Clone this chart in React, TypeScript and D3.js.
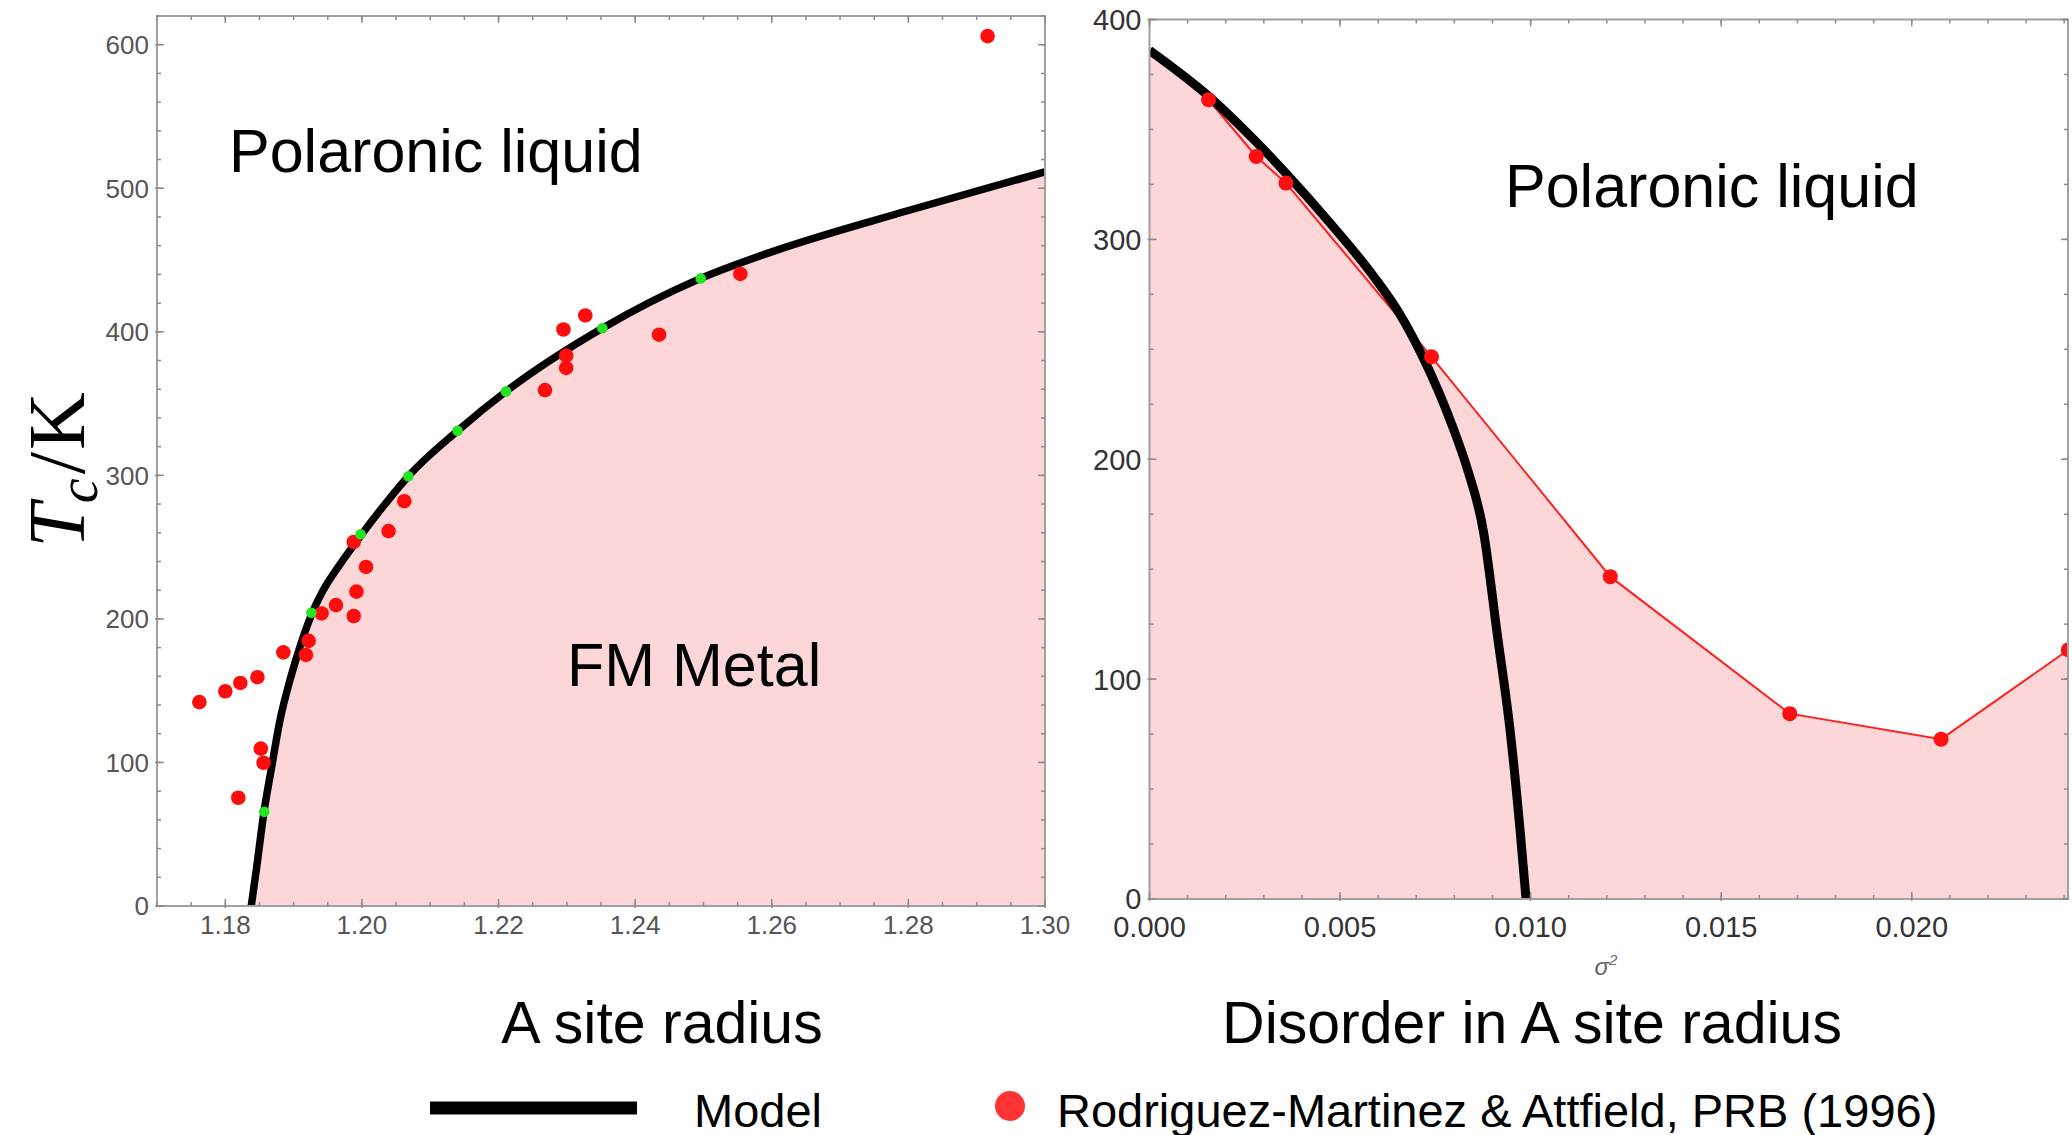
import React from 'react';
import * as d3 from 'd3';

// ---- left panel: Tc vs <r_A> ----
const modelRadius = [1.1838, 1.1846, 1.18566, 1.18679, 1.18801, 1.18947, 1.19093, 1.1924, 1.19435, 1.19679, 1.19972, 1.2041, 1.2068, 1.214, 1.2211, 1.2352, 1.2496, 1.26, 1.28, 1.3];
const modelRadiusTc = [0, 27.4, 65.5, 97, 129.6, 157.4, 180.6, 200.4, 220.1, 238, 257.3, 284.2, 299.4, 331, 358.5, 402.5, 437.2, 455.7, 484.5, 511.5];

const greenRadius = [1.1857, 1.1926, 1.1998, 1.2068, 1.214, 1.2211, 1.2352, 1.2496];
const greenTc = [65.6, 204.3, 259, 299.4, 331, 358.5, 402.5, 437.2];

const expRadius = [1.2916, 1.2554, 1.2327, 1.2295, 1.2435, 1.2299, 1.2299, 1.2268, 1.2062, 1.2039, 1.1988, 1.2006, 1.1992, 1.1988, 1.1962, 1.1941, 1.1922, 1.1918, 1.1885, 1.1847, 1.1822, 1.18, 1.1762, 1.1852, 1.1856, 1.1819];
const expRadiusTc = [606, 440.3, 411.4, 401.6, 398, 383.4, 374.9, 359.4, 282, 261.2, 253.6, 236.2, 219, 202, 209.6, 203.8, 184.7, 174.9, 176.7, 159.4, 155.4, 149.6, 142, 109.6, 99.8, 75.4];

// ---- right panel: Tc vs sigma^2 ----
const modelSigma = [0, 0.0016, 0.00282, 0.00361, 0.00466, 0.00588, 0.00655, 0.00712, 0.00758, 0.00796, 0.00832, 0.00877, 0.00912, 0.00947, 0.00973, 0.00988];
const modelSigmaTc = [386, 364.4, 344, 329.5, 309, 283.2, 266.5, 248.3, 231, 214.5, 196.7, 166.4, 121, 75.4, 30, 0];

const expSigma = [0.00155, 0.0028, 0.00358, 0.0074, 0.01209, 0.0168, 0.02077, 0.02411];
const expSigmaTc = [363.5, 337.7, 325.6, 246.6, 146.6, 84.3, 72.7, 113.3];

// ticks
const leftXTicks = [1.18, 1.2, 1.22, 1.24, 1.26, 1.28, 1.3];
const leftYTicks = [0, 100, 200, 300, 400, 500, 600];
const rightXTicks = [0, 0.005, 0.01, 0.015, 0.02];
const rightYTicks = [0, 100, 200, 300, 400];

const PINK = '#fdd6d8';
const SANS = '"Liberation Sans", Arial, sans-serif';

type Scale = d3.ScaleLinear<number, number>;

function Frame(props: {
  x: Scale; y: Scale;
  xMajor: number[]; xMinor: number[]; yMajor: number[]; yMinor: number[];
  xFmt: (v: number) => string; yFmt: (v: number) => string;
  fontSize: number; color: string; xLabelY: number; yLabelGap: number;
}) {
  const { x, y, xMajor, xMinor, yMajor, yMinor, xFmt, yFmt, fontSize, color, xLabelY, yLabelGap } = props;
  const [x0, x1] = x.range();
  const [y0, y1] = y.range();
  const tick = '#8c8c8c';
  return (
    <g>
      <rect x={x0} y={y1} width={x1 - x0} height={y0 - y1} fill="none" stroke="#a0a0a0" strokeWidth={2} />
      {xMinor.map((v, i) => (
        <g key={'xm' + i} stroke={tick} strokeWidth={1.5}>
          <line x1={x(v)} x2={x(v)} y1={y0} y2={y0 - 4} />
          <line x1={x(v)} x2={x(v)} y1={y1} y2={y1 + 4} />
        </g>
      ))}
      {xMajor.map((v, i) => (
        <g key={'xM' + i} stroke={tick} strokeWidth={1.5}>
          <line x1={x(v)} x2={x(v)} y1={y0 + 2} y2={y0 - 7} />
          <line x1={x(v)} x2={x(v)} y1={y1} y2={y1 + 7} />
        </g>
      ))}
      {yMinor.map((v, i) => (
        <g key={'ym' + i} stroke={tick} strokeWidth={1.5}>
          <line x1={x0} x2={x0 + 4} y1={y(v)} y2={y(v)} />
          <line x1={x1} x2={x1 - 4} y1={y(v)} y2={y(v)} />
        </g>
      ))}
      {yMajor.map((v, i) => (
        <g key={'yM' + i} stroke={tick} strokeWidth={1.5}>
          <line x1={x0 - 2} x2={x0 + 7} y1={y(v)} y2={y(v)} />
          <line x1={x1} x2={x1 - 7} y1={y(v)} y2={y(v)} />
        </g>
      ))}
      {xMajor.map((v, i) => (
        <text key={'xl' + i} x={x(v)} y={xLabelY} textAnchor="middle" fontFamily={SANS} fontSize={fontSize} fill={color}>
          {xFmt(v)}
        </text>
      ))}
      {yMajor.map((v, i) => (
        <text key={'yl' + i} x={x0 - yLabelGap} y={y(v)} dy="0.36em" textAnchor="end" fontFamily={SANS} fontSize={fontSize} fill={color}>
          {yFmt(v)}
        </text>
      ))}
    </g>
  );
}

export default function App() {
  // left scales
  const xL = d3.scaleLinear().domain([1.17, 1.3]).range([157, 1045]);
  const yL = d3.scaleLinear().domain([0, 620]).range([906, 16]);
  // right scales
  const xR = d3.scaleLinear().domain([0, 0.0241]).range([1149.5, 2068]);
  const yR = d3.scaleLinear().domain([0, 400]).range([899, 19.5]);

  const leftModel = modelRadius.map((r, i) => [r, modelRadiusTc[i]] as [number, number]);
  const rightModel = modelSigma.map((s, i) => [s, modelSigmaTc[i]] as [number, number]);
  const rightExp = expSigma.map((s, i) => [s, expSigmaTc[i]] as [number, number]);

  const lineL = d3.line<[number, number]>().x(d => xL(d[0])).y(d => yL(d[1])).curve(d3.curveMonotoneX);
  const areaL = d3.area<[number, number]>().x(d => xL(d[0])).y0(yL(0)).y1(d => yL(d[1])).curve(d3.curveMonotoneX);
  const lineR = d3.line<[number, number]>().x(d => xR(d[0])).y(d => yR(d[1])).curve(d3.curveMonotoneX);
  const areaR = d3.area<[number, number]>().x(d => xR(d[0])).y0(yR(0)).y1(d => yR(d[1])).curve(d3.curveMonotoneX);
  const expLine = d3.line<[number, number]>().x(d => xR(d[0])).y(d => yR(d[1]));
  const expArea = d3.area<[number, number]>().x(d => xR(d[0])).y0(yR(0)).y1(d => yR(d[1]));

  const leftXMinor = d3.range(1.17, 1.3001, 0.005);
  const leftYMinor = d3.range(0, 620.1, 20);
  const rightXMinor = d3.range(0, 0.0241, 0.001);
  const rightYMinor = d3.range(0, 400.1, 25);

  return (
    <svg width={2072} height={1135} style={{ position: 'absolute', left: 0, top: 0, background: '#fff' }}>
      <defs>
        <clipPath id="clipL">
          <rect x={157} y={16} width={888} height={890} />
        </clipPath>
        <clipPath id="clipR">
          <rect x={1149.5} y={19.5} width={918.5} height={879.5} />
        </clipPath>
      </defs>

      {/* left panel */}
      <g clipPath="url(#clipL)">
        <path d={areaL(leftModel) || ''} fill={PINK} />
        <path d={lineL(leftModel) || ''} fill="none" stroke="#000" strokeWidth={7.5} />
        {expRadius.map((r, i) => (
          <circle key={'e' + i} cx={xL(r)} cy={yL(expRadiusTc[i])} r={7.3} fill="#ff0d0d" />
        ))}
        {greenRadius.map((r, i) => (
          <circle key={'g' + i} cx={xL(r)} cy={yL(greenTc[i])} r={5.3} fill="#22e622" />
        ))}
      </g>
      <Frame x={xL} y={yL} xMajor={leftXTicks} xMinor={leftXMinor} yMajor={leftYTicks} yMinor={leftYMinor}
        xFmt={d3.format('.2f')} yFmt={d3.format('d')} fontSize={26} color="#555" xLabelY={934} yLabelGap={8} />

      {/* right panel */}
      <g clipPath="url(#clipR)">
        <path d={areaR(rightModel) || ''} fill={PINK} />
        <path d={expArea(rightExp) || ''} fill={PINK} />
        <path d={expLine(rightExp) || ''} fill="none" stroke="#ff2020" strokeWidth={2} />
        <path d={lineR(rightModel) || ''} fill="none" stroke="#000" strokeWidth={9} />
        {rightExp.map((d, i) => (
          <circle key={'r' + i} cx={xR(d[0])} cy={yR(d[1])} r={7.5} fill="#ff1010" />
        ))}
      </g>
      <Frame x={xR} y={yR} xMajor={rightXTicks} xMinor={rightXMinor} yMajor={rightYTicks} yMinor={rightYMinor}
        xFmt={d3.format('.3f')} yFmt={d3.format('d')} fontSize={29} color="#333" xLabelY={937} yLabelGap={8} />
      <text x={1606} y={975} textAnchor="middle" fontFamily={SANS} fontSize={24} fontStyle="italic" fill="#666">
        σ<tspan fontSize={15} dy={-10}>2</tspan>
      </text>

      {/* y axis title */}
      <text transform="translate(84,470) rotate(-90)" textAnchor="middle" fontFamily='"Liberation Serif", "DejaVu Serif", serif' fontSize={80} fill="#000">
        <tspan fontStyle="italic">T</tspan>
        <tspan fontStyle="italic" fontSize={56} dy={13}>c</tspan>
        <tspan dx={4} dy={-13}>/</tspan>
        <tspan dx={2}>K</tspan>
      </text>

      {/* region labels */}
      <text x={229} y={172} fontFamily={SANS} fontSize={61} fill="#000">Polaronic liquid</text>
      <text x={567} y={686} fontFamily={SANS} fontSize={61} fill="#000">FM Metal</text>
      <text x={1505} y={207} fontFamily={SANS} fontSize={61} fill="#000">Polaronic liquid</text>

      {/* axis titles */}
      <text x={662} y={1043} textAnchor="middle" fontFamily={SANS} fontSize={59} fill="#000">A site radius</text>
      <text x={1532} y={1043} textAnchor="middle" fontFamily={SANS} fontSize={59} fill="#000">Disorder in A site radius</text>

      {/* legend */}
      <line x1={430} x2={637} y1={1108} y2={1108} stroke="#000" strokeWidth={13} />
      <text x={694} y={1127} fontFamily={SANS} fontSize={47} fill="#000">Model</text>
      <circle cx={1010} cy={1106} r={15} fill="#ff3535" />
      <text x={1057} y={1127} fontFamily={SANS} fontSize={47} fill="#000">Rodriguez-Martinez &amp; Attfield, PRB (1996)</text>
    </svg>
  );
}
